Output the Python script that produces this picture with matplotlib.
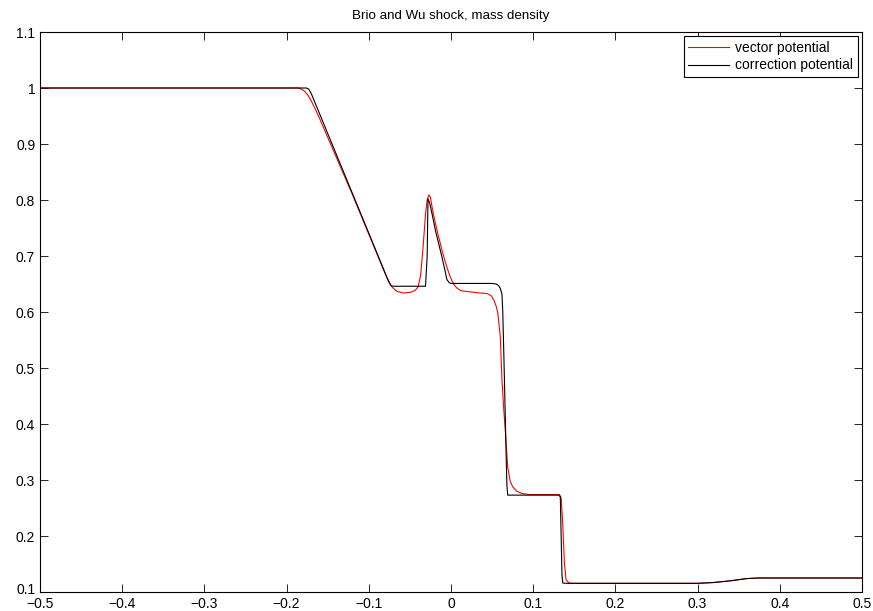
import matplotlib
matplotlib.use("Agg")
import matplotlib.pyplot as plt
import matplotlib.transforms as mtransforms

plt.rcParams['font.family'] = ['Liberation Sans', 'DejaVu Sans']

title = "Brio and Wu shock, mass density"
labels = ["vector potential", "correction potential"]

x_vec = [-0.5, -0.186, -0.182, -0.178, -0.174, -0.170, -0.165, -0.160, -0.120, -0.085, -0.078,
         -0.072, -0.066, -0.058, -0.050, -0.044, -0.040, -0.037, -0.034, -0.031, -0.029,
         -0.027, -0.025, -0.023, -0.020, -0.017, -0.013, -0.010, -0.005, -0.001, 0.003,
         0.007, 0.012, 0.023, 0.035, 0.044, 0.049, 0.052, 0.055, 0.057, 0.060, 0.062,
         0.064, 0.066, 0.069, 0.072, 0.075, 0.080, 0.086, 0.095, 0.132, 0.134, 0.136,
         0.138, 0.140, 0.143, 0.147, 0.30, 0.32, 0.34, 0.36, 0.375, 0.5]
y_vec = [1.0, 1.0, 0.998, 0.994, 0.987, 0.977, 0.962, 0.946, 0.810, 0.686, 0.661,
         0.645, 0.637, 0.634, 0.635, 0.638, 0.645, 0.665, 0.715, 0.775, 0.800,
         0.809, 0.805, 0.787, 0.765, 0.746, 0.722, 0.705, 0.680, 0.663, 0.650,
         0.643, 0.638, 0.636, 0.634, 0.633, 0.629, 0.622, 0.610, 0.598, 0.555, 0.479,
         0.43, 0.389, 0.323, 0.298, 0.288, 0.280, 0.276, 0.274, 0.274, 0.268, 0.22,
         0.15, 0.122, 0.1165, 0.1155, 0.1155, 0.117, 0.120, 0.124, 0.125, 0.125]

x_cor = [-0.5, -0.176, -0.173, -0.170, -0.120, -0.076, -0.073, -0.070, -0.031, -0.029,
         -0.028, -0.026, -0.023, -0.019, -0.015, -0.011, -0.007, -0.005, -0.002, 0.001,
         0.050, 0.055, 0.058, 0.060, 0.062, 0.063, 0.065, 0.067, 0.068, 0.069,
         0.072, 0.131, 0.133, 0.134, 0.135, 0.136, 0.140, 0.30, 0.32, 0.34, 0.36, 0.375, 0.5]
y_cor = [1.0, 1.0, 0.998, 0.99, 0.812, 0.655, 0.647, 0.646, 0.646, 0.70,
         0.802, 0.795, 0.775, 0.746, 0.722, 0.698, 0.672, 0.658, 0.652, 0.651,
         0.651, 0.650, 0.647, 0.642, 0.632, 0.60, 0.48, 0.35, 0.29, 0.273,
         0.273, 0.273, 0.27, 0.20, 0.13, 0.116, 0.1155, 0.1155, 0.117, 0.120, 0.124, 0.125, 0.125]

xticks = [-0.5, -0.4, -0.3, -0.2, -0.1, 0, 0.1, 0.2, 0.3, 0.4, 0.5]
yticks = [0.1, 0.2, 0.3, 0.4, 0.5, 0.6, 0.7, 0.8, 0.9, 1.0, 1.1]
xticklabels = ["\u22120.5", "\u22120.4", "\u22120.3", "\u22120.2", "\u22120.1", "0",
               "0.1", "0.2", "0.3", "0.4", "0.5"]
yticklabels = ["0.1", "0.2", "0.3", "0.4", "0.5", "0.6", "0.7", "0.8", "0.9", "1", "1.1"]

fig = plt.figure(figsize=(8.73, 6.11), dpi=100)
ax = fig.add_axes([40/873, 19/611, 822/873, 560/611])

ax.plot(x_vec, y_vec, color='#ff0000', lw=0.8, label=labels[0])
ax.plot(x_cor, y_cor, color='black', lw=0.8, label=labels[1])

ax.set_xlim(-0.5, 0.5)
ax.set_ylim(0.1, 1.1)
ax.set_xticks(xticks)
ax.set_xticklabels(xticklabels)
ax.set_yticks(yticks)
ax.set_yticklabels(yticklabels)
ax.tick_params(direction='in', top=True, right=True, length=5.5, width=0.6,
               labelsize=10)
ax.tick_params(axis='x', pad=3.5)
ax.tick_params(axis='y', pad=3.5)
for s in ax.spines.values():
    s.set_linewidth(0.8)

# nudge the bottom-most y label slightly up so it does not collide with "-0.5"
lab0 = ax.get_yticklabels()[0]
lab0.set_transform(lab0.get_transform() +
                   mtransforms.ScaledTranslation(0, 3/100, fig.dpi_scale_trans))

ax.set_title(title, fontsize=9.6, pad=9)

leg = ax.legend(loc='upper right', fontsize=10, fancybox=False, framealpha=1,
                edgecolor='black', handlelength=2.95, borderaxespad=0.3,
                borderpad=0.35, labelspacing=0.25, handletextpad=0.4)
leg.get_frame().set_linewidth(0.8)

fig.savefig("out.png", dpi=100)
